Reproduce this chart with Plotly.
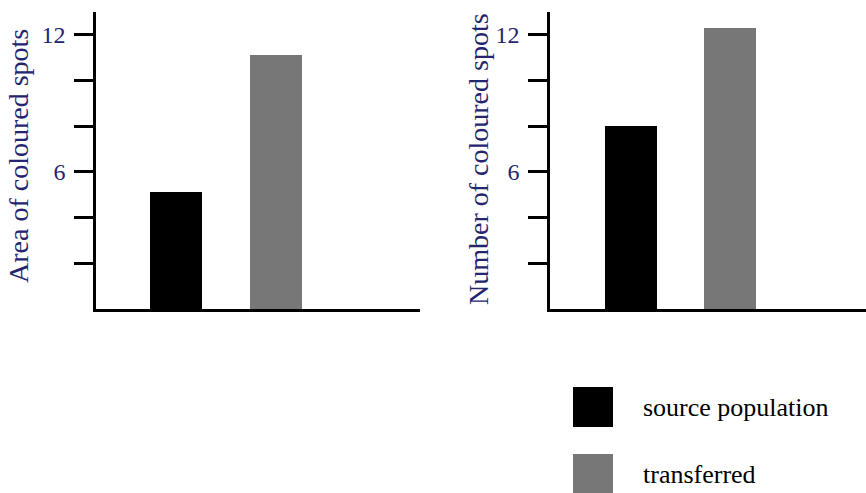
import plotly.graph_objects as go

W, H = 866, 493

categories = ["source population", "transferred"]
area_values = [5.1, 11.1]
number_values = [8.0, 12.3]
bar_colors = ["#000000", "#777777"]
tick_vals = [2, 4, 6, 8, 10, 12]
tick_text = ["", "", "6", "", "", "12"]
y_titles = ["Area of coloured spots", "Number of coloured spots"]

NAVY = "#25256f"
SERIF = "Liberation Serif"

def px(x):
    return x / W

def py(y):
    return 1 - y / H

fig = go.Figure()
fig.add_trace(go.Bar(x=[0, 1], y=area_values, width=0.52, marker=dict(color=bar_colors, line=dict(width=0)),
                     xaxis="x", yaxis="y", showlegend=False, hoverinfo="skip"))
fig.add_trace(go.Bar(x=[0, 1], y=number_values, width=0.525, marker=dict(color=bar_colors, line=dict(width=0)),
                     xaxis="x2", yaxis="y2", showlegend=False, hoverinfo="skip"))

yax = dict(range=[0, 13], showline=True, linecolor="black", linewidth=2.5, ticks="outside",
           ticklen=19, tickwidth=2.5, tickcolor="black", tickvals=tick_vals, ticktext=tick_text,
           tickfont=dict(family=SERIF, size=24, color=NAVY), ticklabelstandoff=4,
           showgrid=False, zeroline=False, domain=[py(309), py(12)])
xax = dict(showline=True, linecolor="black", linewidth=2.5, showticklabels=False, ticks="",
           showgrid=False, zeroline=False)

fig.update_layout(
    width=W, height=H, margin=dict(l=0, r=0, t=0, b=0),
    paper_bgcolor="white", plot_bgcolor="white",
    font=dict(family=SERIF),
    xaxis=dict(xax, domain=[px(96), px(420)], range=[-0.8, 2.44]),
    yaxis=dict(yax, anchor="x"),
    xaxis2=dict(xax, domain=[px(550), px(866)], range=[-0.818, 2.374]),
    yaxis2=dict(yax, anchor="x2"),
    bargap=0,
)

annotations = [
    dict(text=y_titles[0], x=px(19), y=py(156), textangle=-90),
    dict(text=y_titles[1], x=px(479), y=py(159), textangle=-90),
]
for a in annotations:
    a.update(xref="paper", yref="paper", xanchor="center", yanchor="middle", showarrow=False,
             font=dict(family=SERIF, size=28, color=NAVY))

# legend
legend_y = [407, 474]
for c, label, cy in zip(bar_colors, categories, legend_y):
    fig.add_shape(type="rect", xref="paper", yref="paper", x0=px(573), x1=px(613),
                  y0=py(cy - 20), y1=py(cy + 20), fillcolor=c, line=dict(width=0))
    annotations.append(dict(text=label, xref="paper", yref="paper", x=px(641), y=py(cy),
                            xanchor="left", yanchor="middle", showarrow=False,
                            font=dict(family=SERIF, size=26, color="black")))

fig.update_layout(annotations=annotations)
fig.write_html("out.html", config={"displayModeBar": False},
               post_script="document.body.style.margin='0';")
